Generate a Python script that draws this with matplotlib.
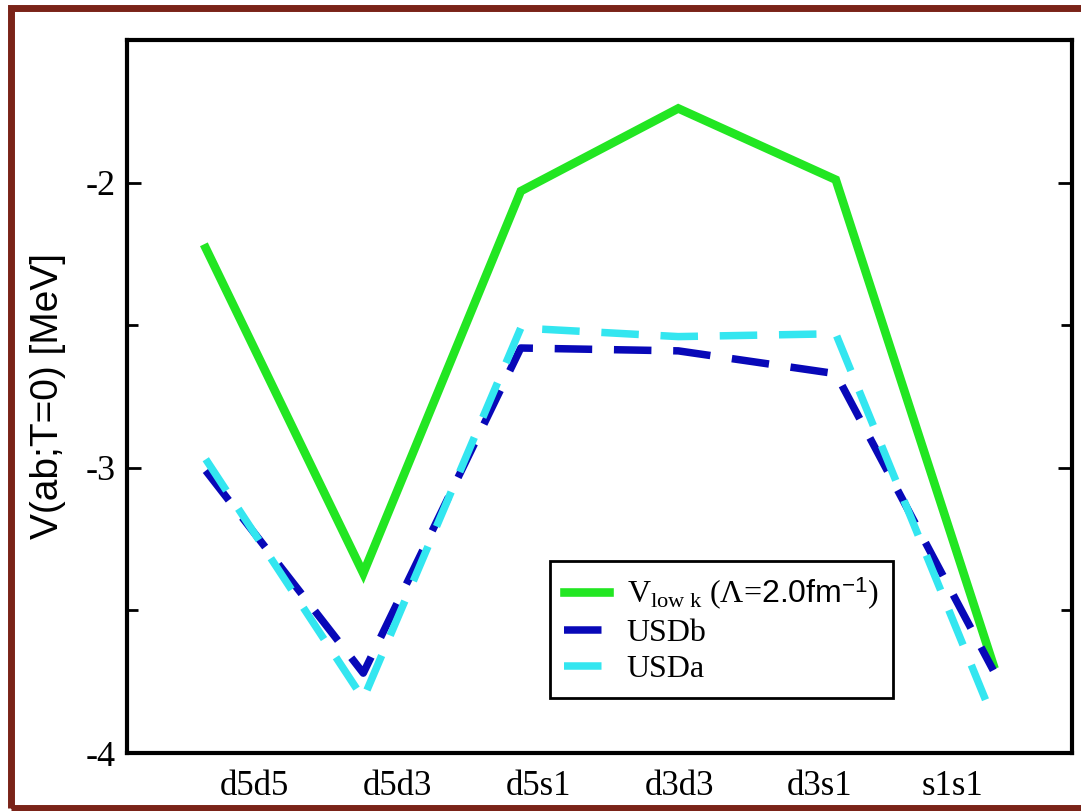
import matplotlib.pyplot as plt
from matplotlib.patches import Rectangle
from matplotlib.ticker import MultipleLocator
import numpy as np

# data
categories = ['d5d5', 'd5d3', 'd5s1', 'd3d3', 'd3s1', 's1s1']
vlowk = [-2.23, -3.37, -2.03, -1.74, -1.99, -3.69]
usdb = [-3.01, -3.72, -2.58, -2.59, -2.67, -3.71]
usda = [-2.97, -3.81, -2.51, -2.54, -2.53, -3.88]

plt.rc('mathtext', fontset='custom', rm='Liberation Serif', sf='Liberation Sans',
       it='Liberation Serif:italic')

fig = plt.figure(figsize=(10.81, 8.11), dpi=100)
ax = fig.add_axes([0.1175, 0.0715, 0.8742, 0.8792])

x = np.arange(1, len(categories) + 1)
ax.plot(x, vlowk, color='#22e622', lw=6.2, solid_joinstyle='miter',
        label=r'V$_{\mathrm{low\ k}}$ (Λ=$\mathsf{2.0fm}^{\mathsf{-1}}$)')
ax.plot(x, usdb, color='#0808b8', lw=5.4, dashes=(5.0, 2.9), dash_capstyle='butt',
        label='USDb')
ax.plot(x, usda, color='#33e6f0', lw=5.4, dashes=(5.0, 2.9), dash_capstyle='butt',
        label='USDa')

ax.set_xlim(0.5, 6.5)
ax.set_ylim(-4, -1.5)

# xmgrace style labels sit off the data points
label_pos = [1.31, 2.22, 3.11, 4.01, 4.90, 5.74]
ax.set_xticks(label_pos)
ax.set_xticklabels(categories, family='Liberation Serif', fontsize=25)
ax.tick_params(axis='x', length=0, pad=12)

ax.yaxis.set_major_locator(MultipleLocator(1))
ax.yaxis.set_minor_locator(MultipleLocator(0.5))
ax.set_yticks([-4, -3, -2])
ax.set_yticklabels(['-4', '-3', '-2'], family='Liberation Serif', fontsize=26)
ax.tick_params(axis='y', which='both', direction='in', right=True, width=2, pad=8)
ax.tick_params(axis='y', which='major', length=10)
ax.tick_params(axis='y', which='minor', length=8)

ax.set_ylabel('V(ab;T=0) [MeV]', family='Liberation Sans', fontsize=28, labelpad=14)

for s in ax.spines.values():
    s.set_linewidth(3)

leg = ax.legend(loc='lower left', bbox_to_anchor=(0.4476, 0.077), borderaxespad=0,
                prop={'family': 'Liberation Serif', 'size': 23}, fancybox=False,
                handlelength=1.4, handletextpad=0.55, labelspacing=0.2,
                borderpad=0.45, framealpha=1)
leg.get_frame().set_edgecolor('black')
leg.get_frame().set_linewidth(2)

# dark red slide frame around the figure
fig.patches.append(Rectangle((11 / 1081, 3 / 811), 1.2, 800 / 811, transform=fig.transFigure,
                             fill=False, edgecolor='#7a2318', lw=5, zorder=10))

plt.savefig('out.png', dpi=100)
